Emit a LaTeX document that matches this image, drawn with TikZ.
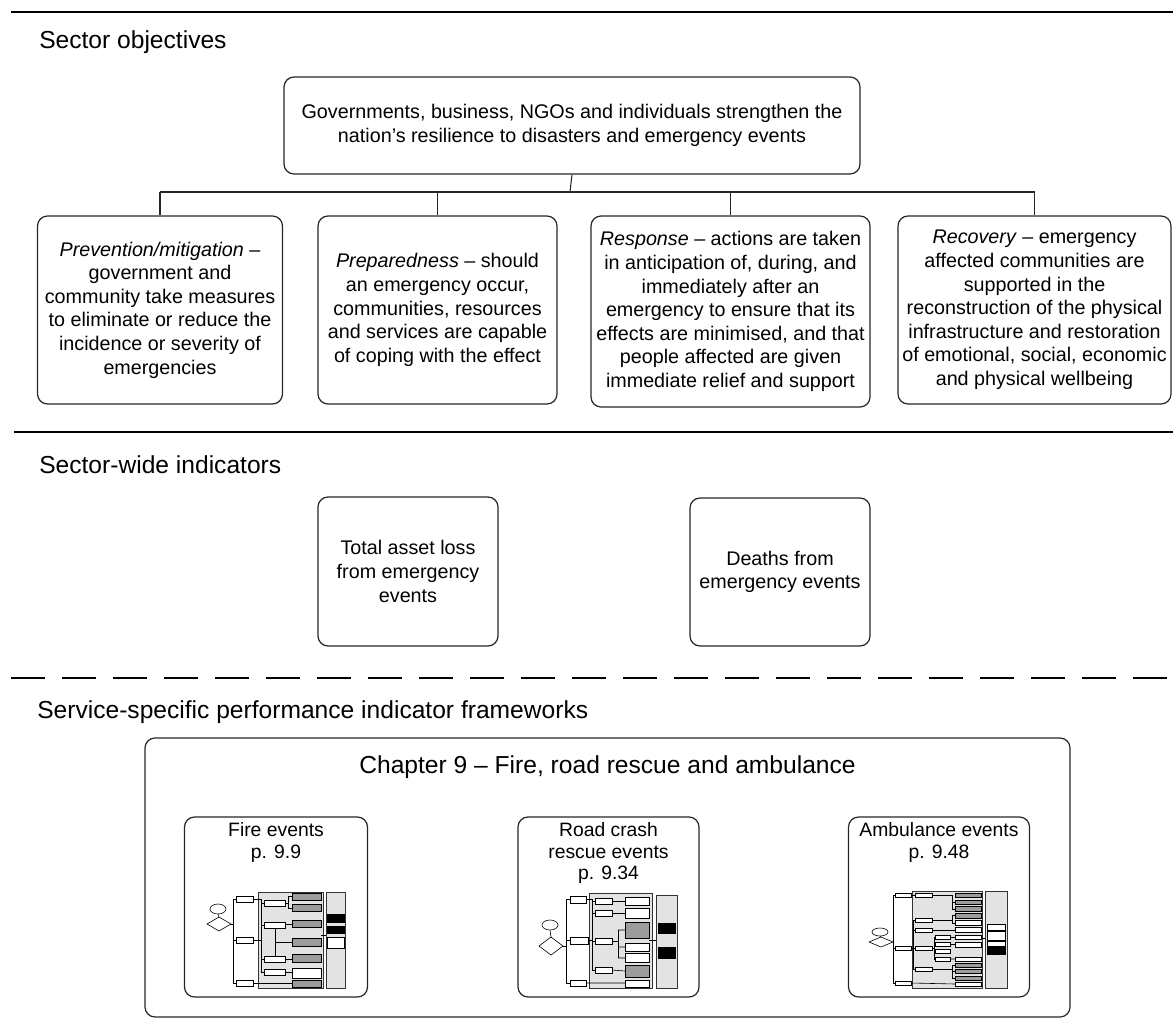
\documentclass[tikz,border=0pt]{standalone}
\usepackage{fontspec}
\setmainfont{Liberation Sans}
\newdimen\pxu \pxu=0.75pt
\newcommand\bodyfont{\fontsize{14.8pt}{17.7pt}\selectfont}
\newcommand\headfont{\fontsize{18.45pt}{22pt}\selectfont}
\newcommand\subheadfont{\fontsize{14.5pt}{16.2pt}\selectfont}
\definecolor{edge}{HTML}{262626}
\definecolor{panel}{HTML}{E3E3E3}
\definecolor{cell}{HTML}{9C9C9C}

\begin{document}
\begin{tikzpicture}[x=0.75pt, y=-0.75pt,
  sbox/.style={draw=edge, line width=0.9pt, rounded corners=7.5pt, align=center, inner sep=0pt, font=\bodyfont},
  head/.style={anchor=west, inner sep=0pt, font=\headfont},
  subhead/.style={align=center, inner sep=0pt, font=\subheadfont},
  rule/.style={line width=1.5pt, draw=black},
  link/.style={draw=edge, line width=0.8pt},
  tl/.style={line width=0.45pt, draw=black},
  tpanel/.style={line width=0.6pt, draw=black!80, fill=panel},
  tw/.style={line width=0.7pt, draw=black, fill=white},
  tg/.style={line width=0.7pt, draw=black, fill=cell},
  tb/.style={line width=0.5pt, draw=black, fill=black},
]
\useasboundingbox (0,0) rectangle (1173,1019);

% ---------- section rules ----------
\draw[rule] (11,12) -- (1173,12);
\draw[rule] (14,432) -- (1173,432);
\draw[rule, dash pattern=on 25.5pt off 12.75pt] (11,678) -- (1173,678);

% ---------- section headings ----------
\node[head] (hobj) at (39,42) {Sector objectives};
\node[head] (hind) at (39,465) {Sector-wide indicators};
\node[head] (hsvc) at (37,712) {Service-specific performance indicator frameworks};

% ---------- sector objectives ----------
\node[sbox, minimum width=576\pxu, minimum height=97\pxu] (top) at (572,125.5)
  {Governments, business, NGOs and individuals strengthen the\\nation’s resilience to disasters and emergency events};

\node[sbox, minimum width=245\pxu, minimum height=188\pxu] (b1) at (160,310)
  {\textit{Prevention/mitigation} --\\government and\\community take measures\\to eliminate or reduce the\\incidence or severity of\\emergencies};
\node[sbox, minimum width=239\pxu, minimum height=188\pxu] (b2) at (437.5,310)
  {\textit{Preparedness} -- should\\an emergency occur,\\communities, resources\\and services are capable\\of coping with the effect};
\node[sbox, minimum width=279\pxu, minimum height=191\pxu] (b3) at (730.5,311.5)
  {\textit{Response} -- actions are taken\\in anticipation of, during, and\\immediately after an\\emergency to ensure that its\\effects are minimised, and that\\people affected are given\\immediate relief and support};
\node[sbox, minimum width=273\pxu, minimum height=188\pxu] (b4) at (1034.5,310)
  {\textit{Recovery} -- emergency\\affected communities are\\supported in the\\reconstruction of the physical\\infrastructure and restoration\\of emotional, social, economic\\and physical wellbeing};

\coordinate (hub) at (570,192);
\draw[link] (top.south) -- (hub);
\draw[link] (b1.north |- hub) -- (b4.north |- hub);
\foreach \b in {b1,b2,b3,b4} \draw[link] (\b.north |- hub) -- (\b.north);

% ---------- sector-wide indicators ----------
\node[sbox, minimum width=180\pxu, minimum height=149\pxu] (assets) at (408,571.5)
  {Total asset loss\\from emergency\\events};
\node[sbox, minimum width=180\pxu, minimum height=148\pxu] (deaths) at (780,572)
  {Deaths from\\emergency events};

% ---------- service-specific frameworks ----------
\node[sbox, minimum width=925\pxu, minimum height=279\pxu] (ch9) at (607.5,877.5) {};
\node[font=\headfont, inner sep=0pt] (ch9title) at (607.5,767) {Chapter 9 -- Fire, road rescue and ambulance};

\node[sbox, minimum width=183\pxu, minimum height=180\pxu] (fire) at (276,907) {};
\node[sbox, minimum width=181\pxu, minimum height=180\pxu] (road) at (608.5,907) {};
\node[sbox, minimum width=181\pxu, minimum height=180\pxu] (amb) at (939,907) {};
\node[subhead] (firet) at (276,842.5) {Fire events\\p. 9.9};
\node[subhead] (roadt) at (608.5,853) {Road crash\\rescue events\\p. 9.34};
\node[subhead] (ambt) at (939,842.5) {Ambulance events\\p. 9.48};

% ---------- fire events framework sketch ----------
\draw[tpanel] (258,892) rectangle (323,988);
\draw[tpanel] (326,892) rectangle (345,988);
\draw[tl, fill=white] (218,909) ellipse [x radius=8, y radius=5];
\draw[tl] (218,914) -- (219,917);
\draw[tl, fill=white] (207,924) -- (219,917) -- (231,924) -- (219,931) -- cycle;
\draw[tl] (231,924) -- (233,924);
\draw[tl] (236,899) -- (233,899) -- (233,983) -- (236,983) (233,940) -- (236,940);
\draw[tw] (236,896) rectangle (253,902);
\draw[tw] (236,937) rectangle (253,943);
\draw[tw] (236,980) rectangle (253,986);
\draw[tl] (253,899) -- (261,899) (253,940) -- (261,940) (261,899) -- (261,972);
\draw[tl] (261,903) -- (264,903) (261,925) -- (264,925) (261,959) -- (264,959) (261,972) -- (264,972);
\draw[tw] (264,900) rectangle (285,906);
\draw[tw] (264,922) rectangle (285,928);
\draw[tw] (264,956) rectangle (285,962);
\draw[tw] (264,969) rectangle (285,975);
\draw[tl] (285,903) -- (288,903) (288,896) -- (288,908) (288,896) -- (292,896) (288,908) -- (292,908);
\draw[tl] (285,924) -- (292,924) (275,928) -- (275,956) (275,942) -- (292,942);
\draw[tl] (285,959) -- (292,959) (285,972) -- (292,972) (253,983) -- (292,983);
\draw[tg] (292,893) rectangle (321,900);
\draw[tg] (292,904) rectangle (321,911);
\draw[tg] (292,920) rectangle (321,927);
\draw[tg] (292,938) rectangle (321,946);
\draw[tg] (292,954) rectangle (321,962);
\draw[tw] (292,968) rectangle (321,978);
\draw[tg] (292,980) rectangle (321,987);
\draw[tl] (321,935) -- (326,935);
\draw[tb] (327,914) rectangle (344,922);
\draw[tb] (327,926) rectangle (344,933);
\draw[tw] (327,937) rectangle (344,948);

% ---------- road crash rescue framework sketch ----------
\draw[tpanel] (589,893) rectangle (652,988);
\draw[tpanel] (656,895) rectangle (677,988);
\draw[tl, fill=white] (550,925) ellipse [x radius=8, y radius=5];
\draw[tl] (550,930) -- (551,937);
\draw[tl, fill=white] (539,946) -- (551,937) -- (563,946) -- (551,955) -- cycle;
\draw[tl] (563,946) -- (566,946);
\draw[tl] (570,899) -- (566,899) -- (566,983) -- (570,983) (566,940) -- (570,940);
\draw[tw] (570,896) rectangle (586,903);
\draw[tw] (570,937) rectangle (588,944);
\draw[tw] (570,980) rectangle (586,986);
\draw[tl] (586,899) -- (592,899) (588,940) -- (592,940) (592,899) -- (592,970);
\draw[tl] (592,901) -- (595,901) (592,913) -- (595,913) (592,941) -- (595,941) (592,970) -- (595,970);
\draw[tw] (595,898) rectangle (612,904);
\draw[tw] (595,910) rectangle (612,916);
\draw[tw] (595,938) rectangle (612,944);
\draw[tw] (595,967) rectangle (612,973);
\draw[tl] (612,901) -- (625,901) (612,913) -- (625,913) (612,941) -- (618,941) (618,930) -- (618,958);
\draw[tl] (618,930) -- (625,930) (618,947) -- (625,947) (618,958) -- (625,958) (612,970) -- (625,971) (586,983) -- (625,983);
\draw[tw] (625,897) rectangle (649,905);
\draw[tw] (625,908) rectangle (649,918);
\draw[tg] (625,922) rectangle (649,938);
\draw[tw] (625,943) rectangle (649,951);
\draw[tw] (625,953) rectangle (649,962);
\draw[tg] (625,965) rectangle (649,977);
\draw[tw] (625,980) rectangle (649,987);
\draw[tl] (649,940) -- (656,940);
\draw[tb] (658,923) rectangle (675,933);
\draw[tb] (658,947) rectangle (675,958);

% ---------- ambulance framework sketch ----------
\draw[tpanel] (912,891) rectangle (982,988);
\draw[tpanel] (985,891) rectangle (1007,988);
\draw[tl, fill=white] (880,932) ellipse [x radius=8, y radius=4];
\draw[tl] (880,936) -- (881,937);
\draw[tl, fill=white] (869,942) -- (881,937) -- (893,942) -- (881,947) -- cycle;
\draw[tl] (895,895) -- (893,895) -- (893,983) -- (895,983) (893,948) -- (895,948);
\draw[tw] (895,893) rectangle (911,897);
\draw[tw] (895,946) rectangle (911,950);
\draw[tw] (895,981) rectangle (911,985);
\draw[tl] (911,895) -- (915,895) (911,948) -- (915,948) (913,920) -- (913,969);
\draw[tl] (913,920) -- (915,920) (913,930) -- (915,930) (913,969) -- (915,969);
\draw[tw] (915,893) rectangle (932,897);
\draw[tw] (915,918) rectangle (932,922);
\draw[tw] (915,928) rectangle (932,932);
\draw[tw] (915,946) rectangle (932,950);
\draw[tw] (915,967) rectangle (932,971);
\draw[tl] (932,948) -- (934,948) (934,937) -- (934,959);
\draw[tl] (934,937) -- (935,937) (934,944) -- (935,944) (934,951) -- (935,951) (934,959) -- (935,959);
\draw[tw] (935,935) rectangle (950,939);
\draw[tw] (935,942) rectangle (950,946);
\draw[tw] (935,949) rectangle (950,953);
\draw[tw] (935,957) rectangle (950,961);
\draw[tl] (932,895) -- (952,895) (952,895) -- (952,909) (952,902) -- (955,902) (952,909) -- (955,909);
\draw[tl] (932,920) -- (952,920) (952,915) -- (952,923) (952,915) -- (955,915) (952,923) -- (955,923);
\draw[tl] (932,930) -- (955,930) (950,937) -- (955,937) (950,944) -- (955,944);
\draw[tl] (932,969) -- (952,969) (952,965) -- (952,978) (952,965) -- (955,965) (952,971) -- (955,971) (952,978) -- (955,978);
\draw[tl] (950,959) -- (955,959) (911,983) -- (955,984);
\draw[tg] (955,893) rectangle (981,897);
\draw[tg] (955,900) rectangle (981,904);
\draw[tg] (955,906) rectangle (981,911);
\draw[tg] (955,913) rectangle (981,918);
\draw[tw] (955,920) rectangle (981,925);
\draw[tw] (955,927) rectangle (981,932);
\draw[tw] (955,935) rectangle (981,939);
\draw[tw] (955,942) rectangle (981,947);
\draw[tw] (955,957) rectangle (981,961);
\draw[tg] (955,963) rectangle (981,967);
\draw[tg] (955,969) rectangle (981,973);
\draw[tg] (955,976) rectangle (981,980);
\draw[tw] (955,982) rectangle (981,986);
\draw[tl] (982,938) -- (985,938);
\draw[tw] (987,924) rectangle (1005,930);
\draw[tw] (987,931) rectangle (1005,940);
\draw[tw] (987,941) rectangle (1005,946);
\draw[tb] (987,947) rectangle (1005,954);

\end{tikzpicture}
\end{document}
